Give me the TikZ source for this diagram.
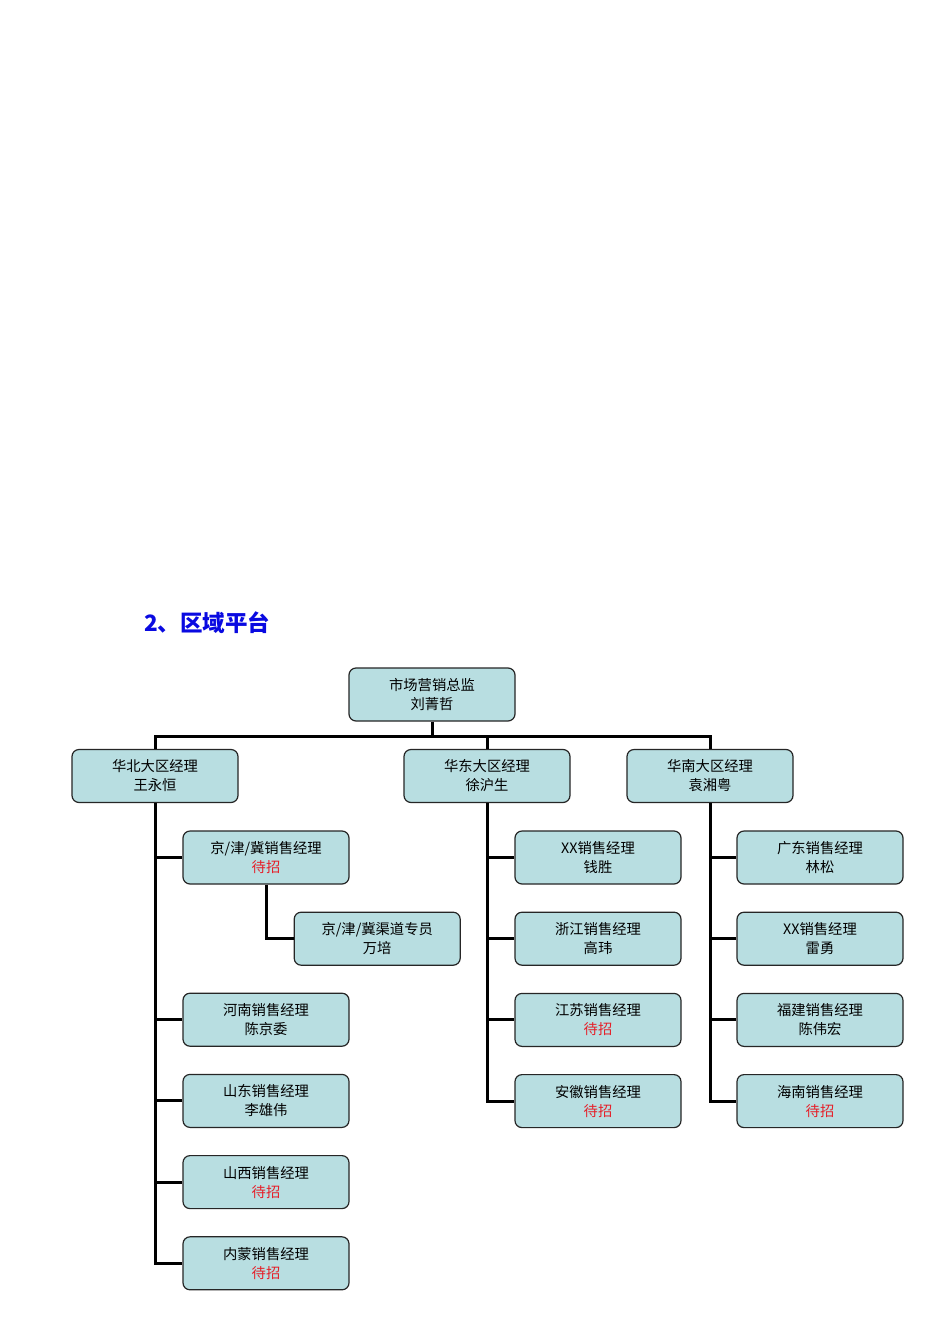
\documentclass[tikz,border=0pt]{standalone}
\usepackage{fontspec}
\usetikzlibrary{positioning}
\newfontfamily\cjk{Noto Sans CJK SC}
\definecolor{boxfill}{RGB}{184,222,225}
\definecolor{vacant}{RGB}{230,30,40}
\definecolor{titleblue}{RGB}{10,10,225}
\newcommand{\vac}{\textcolor{vacant}{待招}}

\begin{document}
\begin{tikzpicture}[x=1pt,y=-1pt,node distance=27pt,
  post/.style={draw=black!85,fill=boxfill,rounded corners=7pt,line width=1.2pt,align=center,
    minimum width=166pt,minimum height=53pt,inner sep=2pt,font=\cjk\fontsize{14.3}{19}\selectfont},
  link/.style={line width=3pt}]
\useasboundingbox[fill=white] (0,0) rectangle (950,1344);
\node[font=\cjk\bfseries\fontsize{22.5}{25}\selectfont,text=titleblue,anchor=west,inner sep=0pt](title) at (144,623){2、区域平台};
% top level
\node[post](zj) at (432,694.5){市场营销总监\\刘菁哲};
\node[post](hb) at (155,776){华北大区经理\\王永恒};
\node[post](hd) at (487,776){华东大区经理\\徐沪生};
\node[post](hn) at (710,776){华南大区经理\\袁湘粤};
\coordinate(bus) at (432,736);
% north
\node[post](jjj) at (266,857.5){京/津/冀销售经理\\\vac};
\node[post,below right=27pt and -56pt of jjj](qd){京/津/冀渠道专员\\万培};
\node[post,below=108pt of jjj](hen){河南销售经理\\陈京委};
\node[post,below=of hen](sd){山东销售经理\\李雄伟};
\node[post,below=of sd](sx){山西销售经理\\\vac};
\node[post,below=of sx](nm){内蒙销售经理\\\vac};
% east
\node[post](xx1) at (598,857.5){XX销售经理\\钱胜};
\node[post,below=of xx1](zjg){浙江销售经理\\高玮};
\node[post,below=of zjg](js){江苏销售经理\\\vac};
\node[post,below=of js](ah){安徽销售经理\\\vac};
% south
\node[post](gd) at (820,857.5){广东销售经理\\林松};
\node[post,below=of gd](xx2){XX销售经理\\雷勇};
\node[post,below=of xx2](fj){福建销售经理\\陈伟宏};
\node[post,below=of fj](han){海南销售经理\\\vac};
% lines
\draw[link](zj.south)--(bus);
\draw[link](hb.north)--(hb.north|-bus)--(hn.north|-bus)--(hn.north);
\draw[link](hd.north)--(hd.north|-bus);
\foreach \c in {jjj,hen,sd,sx,nm}{\draw[link](hb.south)|-(\c.west);}
\draw[link](jjj.south)|-(qd.west);
\foreach \c in {xx1,zjg,js,ah}{\draw[link](hd.south)|-(\c.west);}
\foreach \c in {gd,xx2,fj,han}{\draw[link](hn.south)|-(\c.west);}
\end{tikzpicture}
\end{document}
